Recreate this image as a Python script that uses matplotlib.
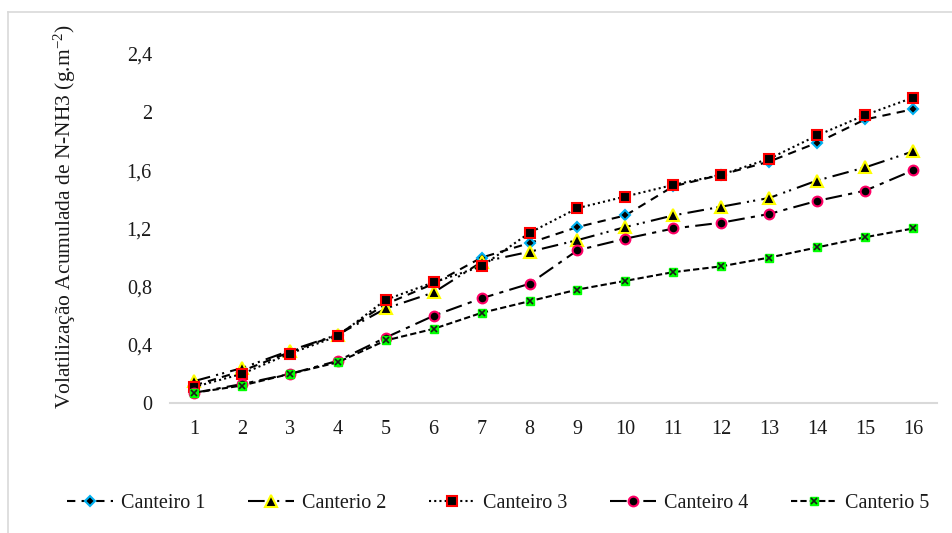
import numpy as np
import matplotlib
matplotlib.use("Agg")
import matplotlib.pyplot as plt
from matplotlib.lines import Line2D

# ---------------------------------------------------------------
# Data
# ---------------------------------------------------------------

dias = list(range(1, 17))

canteiro_1 = [0.12, 0.22, 0.35, 0.47, 0.68, 0.82, 1.00, 1.10, 1.21, 1.29, 1.49, 1.57, 1.66, 1.79, 1.95, 2.02]
canteiro_2 = [0.15, 0.24, 0.36, 0.47, 0.65, 0.76, 0.97, 1.04, 1.12, 1.21, 1.29, 1.35, 1.41, 1.53, 1.62, 1.73]
canteiro_3 = [0.11, 0.20, 0.34, 0.46, 0.71, 0.83, 0.94, 1.17, 1.34, 1.42, 1.50, 1.57, 1.68, 1.84, 1.98, 2.10]
canteiro_4 = [0.07, 0.13, 0.20, 0.29, 0.45, 0.60, 0.72, 0.82, 1.05, 1.13, 1.20, 1.24, 1.30, 1.39, 1.46, 1.60]
canteiro_5 = [0.07, 0.12, 0.20, 0.28, 0.43, 0.51, 0.62, 0.70, 0.78, 0.84, 0.90, 0.94, 1.00, 1.07, 1.14, 1.20]

nomes = ["Canteiro 1", "Canterio 2", "Canteiro 3", "Canteiro 4", "Canterio 5"]

y_ticks = [0, 0.4, 0.8, 1.2, 1.6, 2.0, 2.4]
y_tick_labels = ["0", "0,4", "0,8", "1,2", "1,6", "2", "2,4"]

# ---------------------------------------------------------------
# Style
# ---------------------------------------------------------------

plt.rcParams['font.family'] = ['Liberation Serif', 'DejaVu Serif']
plt.rcParams['mathtext.fontset'] = 'custom'
plt.rcParams['mathtext.rm'] = 'Liberation Serif'
plt.rcParams['mathtext.it'] = 'Liberation Serif:italic'

fig = plt.figure(figsize=(9.52, 5.33), dpi=100)
ax = fig.add_axes([170/952, 1 - 403/533, (937-170)/952, (403-54)/533])

lw = 1.5
ms = 7

l1, = ax.plot(dias, canteiro_1, color='black', lw=lw, dashes=(4, 3),
              marker='D', ms=5.5, mfc='black', mec='#00b0f0', mew=1.5)
l2, = ax.plot(dias, canteiro_2, color='black', lw=lw, dashes=(8, 3, 1, 2, 1, 3),
              marker='^', ms=8, mfc='black', mec='#ffff00', mew=1.5)
l3, = ax.plot(dias, canteiro_3, color='black', lw=lw, dashes=(1, 1.5),
              marker='s', ms=ms, mfc='black', mec='#ff0000', mew=1.5)
l4, = ax.plot(dias, canteiro_4, color='black', lw=lw, dashes=(8, 3, 2, 3),
              marker='o', ms=ms, mfc='black', mec='#ff0066', mew=1.5)
l5, = ax.plot(dias, canteiro_5, color='black', lw=lw, dashes=(3, 1.5),
              marker='s', ms=6, mfc='#00ff00', mec='#00ff00', mew=1)
x5, = ax.plot(dias, canteiro_5, linestyle='none',
              marker='x', ms=4, mec='#1a1a1a', mew=1.2)

# ---------------------------------------------------------------
# Axes
# ---------------------------------------------------------------

ax.set_xlim(0.5, 16.5)
ax.set_ylim(0, 2.4)
ax.set_xticks(dias)
ax.set_yticks(y_ticks)
ax.set_yticklabels(y_tick_labels)
ax.tick_params(axis='both', length=0, labelsize=14.5, colors='#1a1a1a')
ax.tick_params(axis='y', pad=13)
ax.tick_params(axis='x', pad=12)

for s in ['top', 'right', 'left']:
    ax.spines[s].set_visible(False)
ax.spines['bottom'].set_color('#d9d9d9')
ax.spines['bottom'].set_linewidth(1.5)

fig.text(65/952, 1 - 217/533, "Volatilização Acumulada de N-NH3 (g.m$^{-2}$)",
         rotation=90, ha='center', va='center', fontsize=15.5, color='#1a1a1a')

# chart border (light gray frame)
fig.add_artist(Line2D([8/952, 8/952], [0, 1 - 12/533], color='#d9d9d9', lw=1.2))
fig.add_artist(Line2D([8/952, 1], [1 - 12/533, 1 - 12/533], color='#d9d9d9', lw=1.2))

# ---------------------------------------------------------------
# Legend
# ---------------------------------------------------------------

fig.legend([l1, l2, l3, l4, (l5, x5)], nomes, loc='center', ncol=5,
           bbox_to_anchor=(0.523, 1 - 503/533), frameon=False, fontsize=14.5,
           handlelength=2.3, handletextpad=0.4, columnspacing=2.1,
           labelcolor='#1a1a1a')

plt.savefig("out.png", dpi=100)
plt.close()
